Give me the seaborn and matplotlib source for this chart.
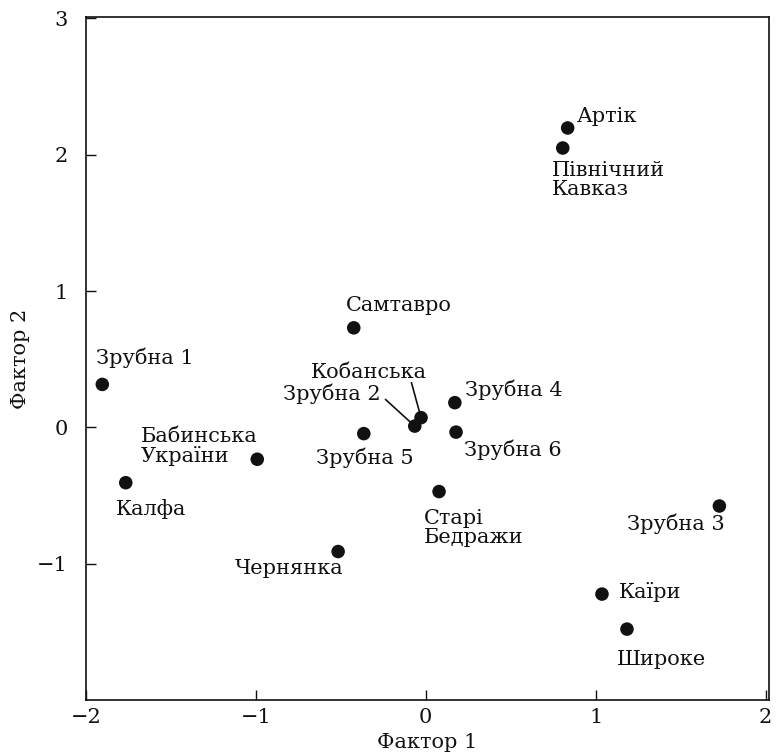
import matplotlib
matplotlib.use("Agg")
import matplotlib.pyplot as plt
import seaborn as sns
import pandas as pd

names = ["Артік", "Північний\nКавказ", "Самтавро", "Зрубна 1", "Кобанська",
         "Зрубна 2", "Зрубна 4", "Зрубна 5", "Зрубна 6", "Бабинська\nУкраїни",
         "Калфа", "Старі\nБедражи", "Зрубна 3", "Чернянка", "Каїри", "Широке"]
factor1 = [0.835, 0.806, -0.424, -1.904, -0.028, -0.065, 0.171, -0.365,
           0.178, -0.992, -1.766, 0.078, 1.728, -0.516, 1.037, 1.184]
factor2 = [2.196, 2.049, 0.730, 0.315, 0.071, 0.009, 0.181, -0.046,
           -0.035, -0.234, -0.406, -0.471, -0.577, -0.911, -1.223, -1.480]

x_ticks = [-2, -1, 0, 1, 2]
y_ticks = [-1, 0, 1, 2, 3]

# label offsets from the dot in pixels (dx, dy up), alignment
label_pos = {
    "Артік": (9, 6, "left", "baseline"),
    "Північний\nКавказ": (-11, -13, "left", "top"),
    "Самтавро": (-8, 17, "left", "baseline"),
    "Зрубна 1": (-6, 20, "left", "baseline"),
    "Кобанська": (6, 40, "right", "baseline"),
    "Зрубна 2": (-34, 26, "right", "baseline"),
    "Зрубна 4": (10, 7, "left", "baseline"),
    "Зрубна 5": (1.5, -30, "center", "baseline"),
    "Зрубна 6": (8, -24, "left", "baseline"),
    "Бабинська\nУкраїни": (0, 32, "right", "top"),
    "Калфа": (-10, -32, "left", "baseline"),
    "Старі\nБедражи": (-15, -17, "left", "top"),
    "Зрубна 3": (5, -24, "right", "baseline"),
    "Чернянка": (5, -22, "right", "baseline"),
    "Каїри": (17, -4, "left", "baseline"),
    "Широке": (-10, -36, "left", "baseline"),
}
# leader lines: start point offset from the dot in pixels
leaders = {
    "Кобанська": (-9.6, 35),
    "Зрубна 2": (-29.3, 26.7),
}

dpi = 100
px = 72 / dpi
ink = "#111111"

sns.set_style("ticks")
plt.rcParams["font.family"] = ["DejaVu Serif"]
plt.rcParams["axes.unicode_minus"] = True

df = pd.DataFrame({"f1": factor1, "f2": factor2, "name": names})

fig = plt.figure(figsize=(7.79, 7.53), dpi=dpi)
ax = fig.add_axes([86 / 779, 1 - 700 / 753, (769 - 86) / 779, (700 - 17) / 753])

sns.scatterplot(data=df, x="f1", y="f2", ax=ax, color=ink, s=95,
                edgecolor="none", zorder=3, legend=False)

for name, x, y in zip(names, factor1, factor2):
    dx, dy, ha, va = label_pos[name]
    ax.annotate(name, (x, y), xytext=(dx * px, dy * px), textcoords="offset points",
                ha=ha, va=va, fontsize=15, color=ink, linespacing=1.0,
                multialignment="left", zorder=2)
    if name in leaders:
        lx, ly = leaders[name]
        ax.annotate("", (x, y), xytext=(lx * px, ly * px), textcoords="offset points",
                    arrowprops=dict(arrowstyle="-", color=ink, lw=1.2,
                                    shrinkA=0, shrinkB=0), zorder=1)

ax.set_xlim(-2, 2.02)
ax.set_ylim(-2, 3.01)
ax.set_xticks(x_ticks)
ax.set_yticks(y_ticks)
ax.tick_params(direction="in", length=7, width=1, labelsize=15, colors=ink)
ax.tick_params(axis="x", pad=6)
ax.tick_params(axis="y", pad=13)
for sp in ax.spines.values():
    sp.set_linewidth(1.2)
    sp.set_color(ink)
    sp.set_visible(True)

ax.set_xlabel("Фактор 1", fontsize=15, color=ink, labelpad=4)
ax.set_ylabel("Фактор 2", fontsize=15, color=ink, labelpad=5)

fig.savefig("out.png", dpi=dpi)
